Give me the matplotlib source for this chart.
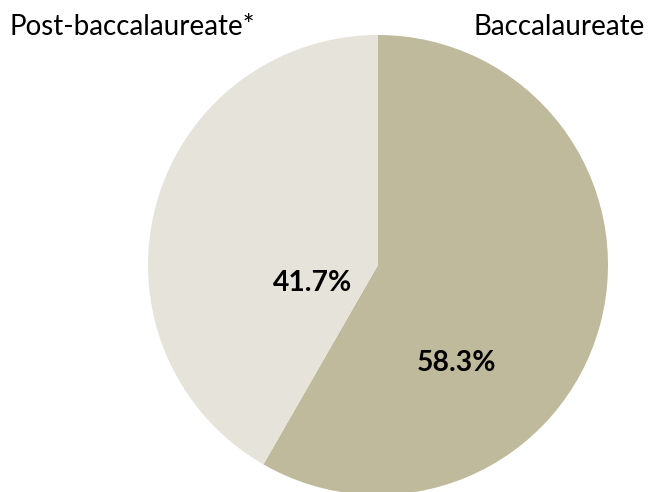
import matplotlib
matplotlib.use("Agg")
import matplotlib.pyplot as plt

categories = ["Baccalaureate", "Post-baccalaureate*"]
values = [58.3, 41.7]
colors = ["#BFBA9C", "#E6E4DA"]

plt.rcParams['font.family'] = ['Lato', 'DejaVu Sans']

W, H = 662, 492
fig = plt.figure(figsize=(W / 100, H / 100), dpi=100)
ax = fig.add_axes([0, 0, 1, 1])

cx, cy, r = 378, H - 265, 230
wedges, texts, autotexts = ax.pie(
    values, colors=colors, startangle=90, counterclock=False,
    center=(cx, cy), radius=r, autopct='%.1f%%',
    wedgeprops=dict(linewidth=0), frame=True,
    textprops=dict(fontsize=20.3, fontweight='bold', color='black'))
ax.set_xlim(0, W)
ax.set_ylim(0, H)
ax.set_aspect('equal')
ax.axis('off')

# Excel-style label positions
pct_pos = [(456, H - 363), (313, H - 283)]
for t, p in zip(autotexts, pct_pos):
    t.set_position(p)
    t.set_ha('center')
    t.set_va('center')

ax.text(645, H - 27, categories[0], ha='right', va='center', fontsize=20)
ax.text(10, H - 27, categories[1], ha='left', va='center', fontsize=20)

fig.savefig("out.png", dpi=100)
